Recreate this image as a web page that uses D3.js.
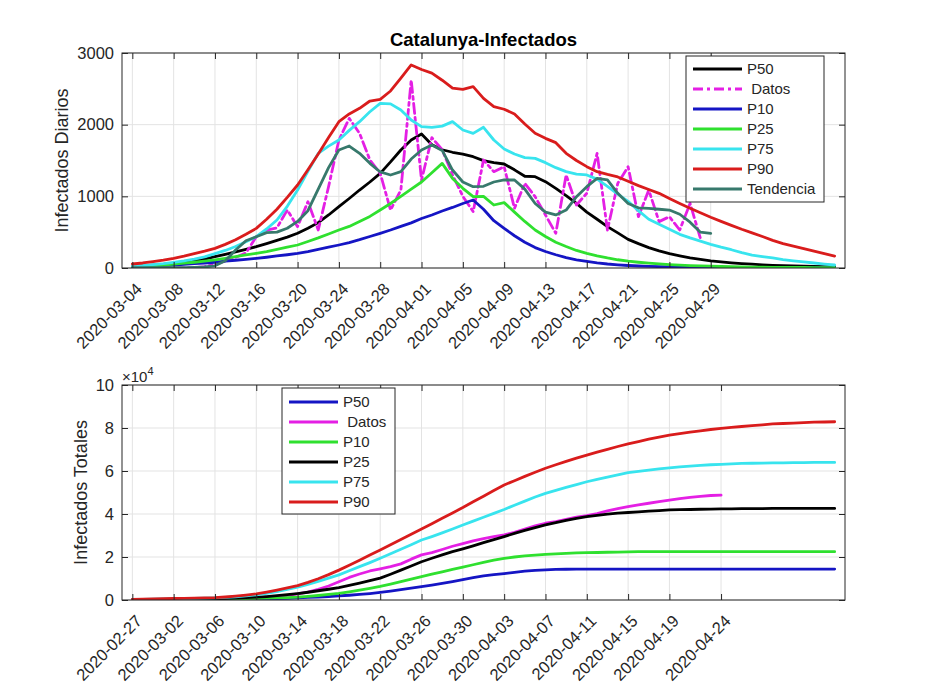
<!DOCTYPE html>
<html><head><meta charset="utf-8">
<script src="https://cdn.jsdelivr.net/npm/d3@7"></script>
<style>
body{margin:0;background:#fff}
svg text{font-family:"Liberation Sans",Arial,Helvetica,sans-serif}
</style>
</head><body>
<svg id="c" width="934" height="700"></svg>
<script>
// ---------- Top panel: daily infections (first value = topStart) ----------
const topStart = "2020-03-04";
const topDomain = ["2020-03-03", "2020-05-12"];
const topTicks = ["2020-03-04","2020-03-08","2020-03-12","2020-03-16","2020-03-20","2020-03-24","2020-03-28","2020-04-01","2020-04-05","2020-04-09","2020-04-13","2020-04-17","2020-04-21","2020-04-25","2020-04-29"];
const topYTicks = [0, 1000, 2000, 3000];

const p50Daily = [20,30,40,52,65,80,100,125,158,190, 225,260,298,340,385,430,484,555,633,740, 856,970,1088,1200,1321,1480,1647,1786,1870,1720, 1650,1615,1590,1553,1498,1470,1451,1370,1280,1274, 1205,1110,1010,902,780,680,577,490,400,340, 285,240,200,170,140,120,100,85,72,62, 53,45,38,33,28,25,22,20,19];
const datosDaily = [10,0,0,0,0,0,5,20,50,100, 150,210,437,530,560,809,577,925,530,1135, 1786,2088,1879,1507,1321,809,1088,2623,1228,1820, 1650,1300,1000,786,1507,1344,1414,833,1181,995, 740,484,1298,879,1042,1600,530,1181,1414,716, 1088,647,716,530,902,414];
const p10Daily = [15,20,27,34,40,50,60,70,80,95, 108,120,135,150,168,185,205,230,260,290, 321,355,395,440,484,530,580,630,690,740, 795,845,900,949,820,660,553,450,360,285, 230,185,145,115,92,72,56,44,35,28, 23,19,16,13,11,9,8,7,6,5, 5,4,4,3,3,3,2,2,2];
const p25Daily = [15,22,30,42,56,68,80,95,112,135, 160,182,205,230,260,290,321,370,420,475, 530,580,650,720,809,900,1000,1100,1200,1330, 1460,1250,1112,995,1000,879,912,780,650,530, 440,360,300,245,205,170,140,115,95,80, 67,57,48,40,34,29,25,21,18,15, 13,11,10,9,8,7,6,6,5];
const p75Daily = [25,35,48,62,80,100,125,155,200,245, 300,365,437,545,670,860,1088,1350,1600,1700, 1786,1920,2042,2180,2298,2290,2205,2065,1972,1963, 1980,2042,1926,1879,1963,1786,1660,1590,1540,1530, 1470,1400,1345,1310,1298,1240,1140,1030,930,800, 680,610,540,470,420,375,330,290,255,215, 181,160,140,118,100,85,70,55,42];
const p90Daily = [56,70,90,110,135,165,200,235,274,330, 395,470,553,680,820,985,1158,1370,1590,1820, 2042,2150,2228,2330,2353,2470,2650,2833,2770,2720, 2620,2510,2493,2530,2367,2251,2215,2150,2010,1880, 1809,1749,1600,1500,1414,1344,1305,1270,1210,1150, 1095,1042,970,900,833,770,708,650,595,540, 490,440,385,340,305,270,235,200,167];
const tendenciaDaily = [5,5,5,5,5,5,10,15,30,100, 250,380,437,493,500,555,650,800,1100,1400, 1647,1702,1600,1460,1340,1298,1344,1520,1647,1716, 1640,1367,1200,1135,1140,1200,1228,1228,1100,900, 780,740,809,995,1135,1251,1230,1042,900,840, 833,820,809,750,640,500,484];

// ---------- Bottom panel: total infections, units of 10^4 (first value = bottomStart) ----------
const bottomStart = "2020-02-27";
const bottomDomain = ["2020-02-26", "2020-05-06"];
const bottomTicks = ["2020-02-27","2020-03-02","2020-03-06","2020-03-10","2020-03-14","2020-03-18","2020-03-22","2020-03-26","2020-03-30","2020-04-03","2020-04-07","2020-04-11","2020-04-15","2020-04-19","2020-04-24"];
const bottomYTicks = [0, 2, 4, 6, 8, 10];

const p50Total = [0,0,0.01,0.01,0.01,0.01,0.02,0.02,0.02,0.03, 0.03,0.04,0.05,0.06,0.07,0.08,0.10,0.12,0.14,0.16, 0.19,0.22,0.26,0.30,0.35,0.41,0.48,0.55,0.62,0.69, 0.77,0.86,0.95,1.04,1.12,1.18,1.23,1.29,1.34,1.38, 1.40,1.42,1.43,1.44,1.44,1.44,1.44,1.44,1.44,1.44, 1.44,1.44,1.44,1.44,1.44,1.44,1.44,1.44,1.44,1.44, 1.44,1.44,1.44,1.44,1.44,1.44,1.44,1.44,1.44];
const datosTotal = [0,0,0,0.01,0.01,0.01,0.02,0.02,0.03,0.04, 0.05,0.07,0.09,0.12,0.16,0.21,0.28,0.37,0.50,0.65, 0.85,1.05,1.21,1.35,1.45,1.55,1.68,1.90,2.10,2.20, 2.35,2.50,2.62,2.75,2.85,2.95,3.03,3.15,3.30,3.45, 3.57,3.65,3.75,3.85,3.92,4.02,4.15,4.25,4.34,4.42, 4.50,4.58,4.65,4.72,4.77,4.82,4.86,4.88];
const p10Total = [0.01,0.01,0.01,0.02,0.02,0.02,0.03,0.03,0.04,0.05, 0.06,0.07,0.08,0.09,0.10,0.11,0.13,0.17,0.21,0.26, 0.31,0.38,0.46,0.54,0.63,0.74,0.85,0.97,1.09,1.20, 1.31,1.42,1.53,1.64,1.75,1.85,1.94,2.00,2.05,2.09, 2.12,2.15,2.17,2.19,2.20,2.21,2.22,2.23,2.24,2.25, 2.25,2.25,2.25,2.25,2.25,2.25,2.25,2.25,2.25,2.25, 2.25,2.25,2.25,2.25,2.25,2.25,2.25,2.25,2.25];
const p25Total = [0.01,0.01,0.02,0.02,0.03,0.03,0.04,0.05,0.06,0.07, 0.09,0.11,0.13,0.16,0.20,0.25,0.30,0.36,0.43,0.50, 0.58,0.68,0.79,0.90,1.02,1.20,1.39,1.58,1.78,1.94, 2.10,2.25,2.38,2.52,2.67,2.81,2.95,3.10,3.24,3.37, 3.49,3.60,3.70,3.80,3.88,3.94,3.99,4.04,4.07,4.10, 4.13,4.16,4.19,4.20,4.21,4.22,4.23,4.24,4.24,4.25, 4.25,4.25,4.26,4.26,4.26,4.26,4.26,4.26,4.26];
const p75Total = [0.02,0.03,0.04,0.05,0.06,0.07,0.08,0.09,0.10,0.12, 0.15,0.19,0.24,0.31,0.39,0.49,0.60,0.73,0.87,1.02, 1.17,1.36,1.55,1.74,1.94,2.15,2.36,2.57,2.79,2.95, 3.12,3.30,3.49,3.67,3.85,4.03,4.21,4.41,4.60,4.79, 4.96,5.10,5.24,5.37,5.50,5.61,5.72,5.82,5.92,5.98, 6.04,6.10,6.15,6.19,6.23,6.26,6.29,6.31,6.33,6.35, 6.36,6.37,6.38,6.38,6.39,6.39,6.40,6.40,6.40];
const p90Total = [0.03,0.04,0.05,0.06,0.07,0.08,0.09,0.10,0.11,0.14, 0.18,0.23,0.29,0.37,0.46,0.56,0.67,0.82,0.99,1.18, 1.39,1.62,1.85,2.09,2.33,2.57,2.81,3.06,3.30,3.55, 3.80,4.05,4.30,4.57,4.83,5.09,5.35,5.55,5.75,5.94, 6.13,6.29,6.45,6.60,6.74,6.88,7.01,7.14,7.26,7.37, 7.48,7.58,7.67,7.74,7.81,7.87,7.93,7.98,8.03,8.07, 8.11,8.15,8.19,8.21,8.23,8.25,8.27,8.28,8.29];

// ---------- colours ----------
const C = {black:"#000000", magenta:"#e41fe4", blue:"#1515c4", green:"#2fe02f", cyan:"#38e4ee", red:"#d91c1c", teal:"#37796c"};
const AX = "#262626";
const FONT = '"Liberation Sans",Arial,Helvetica,sans-serif';

const svg = d3.select("#c");
const parse = d3.utcParse("%Y-%m-%d");
const fmt = d3.utcFormat("%Y-%m-%d");

function panel(cfg){
  const {x0,x1,y0,y1} = cfg;
  const x = d3.scaleUtc().domain(cfg.xDomain.map(parse)).range([x0,x1]);
  const y = d3.scaleLinear().domain(cfg.yDomain).range([y1,y0]);
  const g = svg.append("g");
  const xt = cfg.xTicks.map(parse);
  // grid
  g.append("g").selectAll("line").data(xt).join("line")
    .attr("x1",d=>x(d)).attr("x2",d=>x(d)).attr("y1",y0).attr("y2",y1)
    .attr("stroke","#e3e3e3").attr("stroke-width",1);
  g.append("g").selectAll("line").data(cfg.yTicks).join("line")
    .attr("x1",x0).attr("x2",x1).attr("y1",d=>y(d)).attr("y2",d=>y(d))
    .attr("stroke","#e3e3e3").attr("stroke-width",1);
  // clip
  const cid = "clip"+cfg.id;
  svg.append("clipPath").attr("id",cid).append("rect")
    .attr("x",x0).attr("y",y0-2).attr("width",x1-x0).attr("height",y1-y0+2);
  const lg = g.append("g").attr("clip-path",`url(#${cid})`);
  cfg.series.forEach(s=>{
    const st = parse(s.start);
    const line = d3.line().x((d,i)=>x(d3.utcDay.offset(st,i))).y(d=>y(d));
    lg.append("path").datum(s.values).attr("d",line)
      .attr("fill","none").attr("stroke",s.color).attr("stroke-width",2.8)
      .attr("stroke-linejoin","round").attr("stroke-linecap","round")
      .attr("stroke-dasharray",s.dash||null);
  });
  // axes via d3 (inward ticks)
  const tl = 6;
  const bottomAx = d3.axisBottom(x).tickValues(xt).tickSize(-tl).tickSizeOuter(0).tickFormat(fmt);
  const gb = g.append("g").attr("transform",`translate(0,${y1})`).call(bottomAx)
    .attr("font-family",FONT).attr("font-size",16.5);
  gb.select(".domain").remove();
  gb.selectAll("line").attr("stroke",AX);
  gb.selectAll("text").attr("fill",AX)
    .attr("text-anchor","end").attr("dy","0.35em").attr("y",0)
    .attr("transform","translate(6,18) rotate(-45)");
  const topAx = d3.axisTop(x).tickValues(xt).tickSize(-tl).tickSizeOuter(0).tickFormat("");
  const gt = g.append("g").attr("transform",`translate(0,${y0})`).call(topAx);
  gt.select(".domain").remove(); gt.selectAll("line").attr("stroke",AX);
  const leftAx = d3.axisLeft(y).tickValues(cfg.yTicks).tickSize(-tl).tickSizeOuter(0).tickFormat(d3.format("d"));
  const gl = g.append("g").attr("transform",`translate(${x0},0)`).call(leftAx)
    .attr("font-family",FONT).attr("font-size",16.5);
  gl.select(".domain").remove(); gl.selectAll("line").attr("stroke",AX);
  gl.selectAll("text").attr("fill",AX).attr("x",-8);
  const rightAx = d3.axisRight(y).tickValues(cfg.yTicks).tickSize(-tl).tickSizeOuter(0).tickFormat("");
  const gr = g.append("g").attr("transform",`translate(${x1},0)`).call(rightAx);
  gr.select(".domain").remove(); gr.selectAll("line").attr("stroke",AX);
  // box
  g.append("rect").attr("x",x0).attr("y",y0).attr("width",x1-x0).attr("height",y1-y0)
    .attr("fill","none").attr("stroke",AX).attr("stroke-width",1);
  // y label
  g.append("text").attr("transform",`translate(${cfg.ylabX},${(y0+y1)/2}) rotate(-90)`)
    .attr("text-anchor","middle").attr("font-size",18).attr("fill",AX).text(cfg.ylabel);
  // legend
  const L = cfg.legend;
  const lgG = g.append("g");
  lgG.append("rect").attr("x",L.x).attr("y",L.y).attr("width",L.w).attr("height",L.h)
    .attr("fill","#fff").attr("stroke",AX).attr("stroke-width",1);
  cfg.series.forEach((s,i)=>{
    const yy = L.y + L.first + i*20;
    lgG.append("line").attr("x1",L.x+7).attr("x2",L.x+56).attr("y1",yy).attr("y2",yy)
      .attr("stroke",s.color).attr("stroke-width",2.8).attr("stroke-dasharray",s.dash||null);
    lgG.append("text").attr("x",L.x+61).attr("y",yy).attr("dy","0.35em")
      .attr("font-size",15).attr("fill",AX).style("white-space","pre").text(s.name);
  });
  return {x,y};
}

panel({
  id:"top", x0:122, x1:845, y0:53, y1:268,
  xDomain: topDomain, yDomain:[0,3000], xTicks: topTicks, yTicks: topYTicks,
  ylabel:"Infectados Diarios", ylabX:68,
  legend:{x:686, y:56, w:138, h:146, first:13},
  series:[
    {name:"P50", values:p50Daily, start:topStart, color:C.black},
    {name:" Datos", values:datosDaily, start:topStart, color:C.magenta, dash:"10,4,3,4"},
    {name:"P10", values:p10Daily, start:topStart, color:C.blue},
    {name:"P25", values:p25Daily, start:topStart, color:C.green},
    {name:"P75", values:p75Daily, start:topStart, color:C.cyan},
    {name:"P90", values:p90Daily, start:topStart, color:C.red},
    {name:"Tendencia", values:tendenciaDaily, start:topStart, color:C.teal}
  ]
});

panel({
  id:"bot", x0:122, x1:845, y0:385, y1:600,
  xDomain: bottomDomain, yDomain:[0,10], xTicks: bottomTicks, yTicks: bottomYTicks,
  ylabel:"Infectados Totales", ylabX:87,
  legend:{x:282, y:388, w:113, h:126, first:14},
  series:[
    {name:"P50", values:p50Total, start:bottomStart, color:C.blue},
    {name:" Datos", values:datosTotal, start:bottomStart, color:C.magenta},
    {name:"P10", values:p10Total, start:bottomStart, color:C.green},
    {name:"P25", values:p25Total, start:bottomStart, color:C.black},
    {name:"P75", values:p75Total, start:bottomStart, color:C.cyan},
    {name:"P90", values:p90Total, start:bottomStart, color:C.red}
  ]
});

// title
svg.append("text").attr("x",483.5).attr("y",46).attr("text-anchor","middle")
  .attr("font-size",18.5).attr("font-weight","bold").attr("fill","#000").text("Catalunya-Infectados");
// exponent
const ex = svg.append("text").attr("x",122).attr("y",382).attr("font-size",15).attr("fill",AX);
ex.append("tspan").text("\u00d710");
ex.append("tspan").attr("dy",-7).attr("font-size",11).text("4");
</script>
</body></html>
